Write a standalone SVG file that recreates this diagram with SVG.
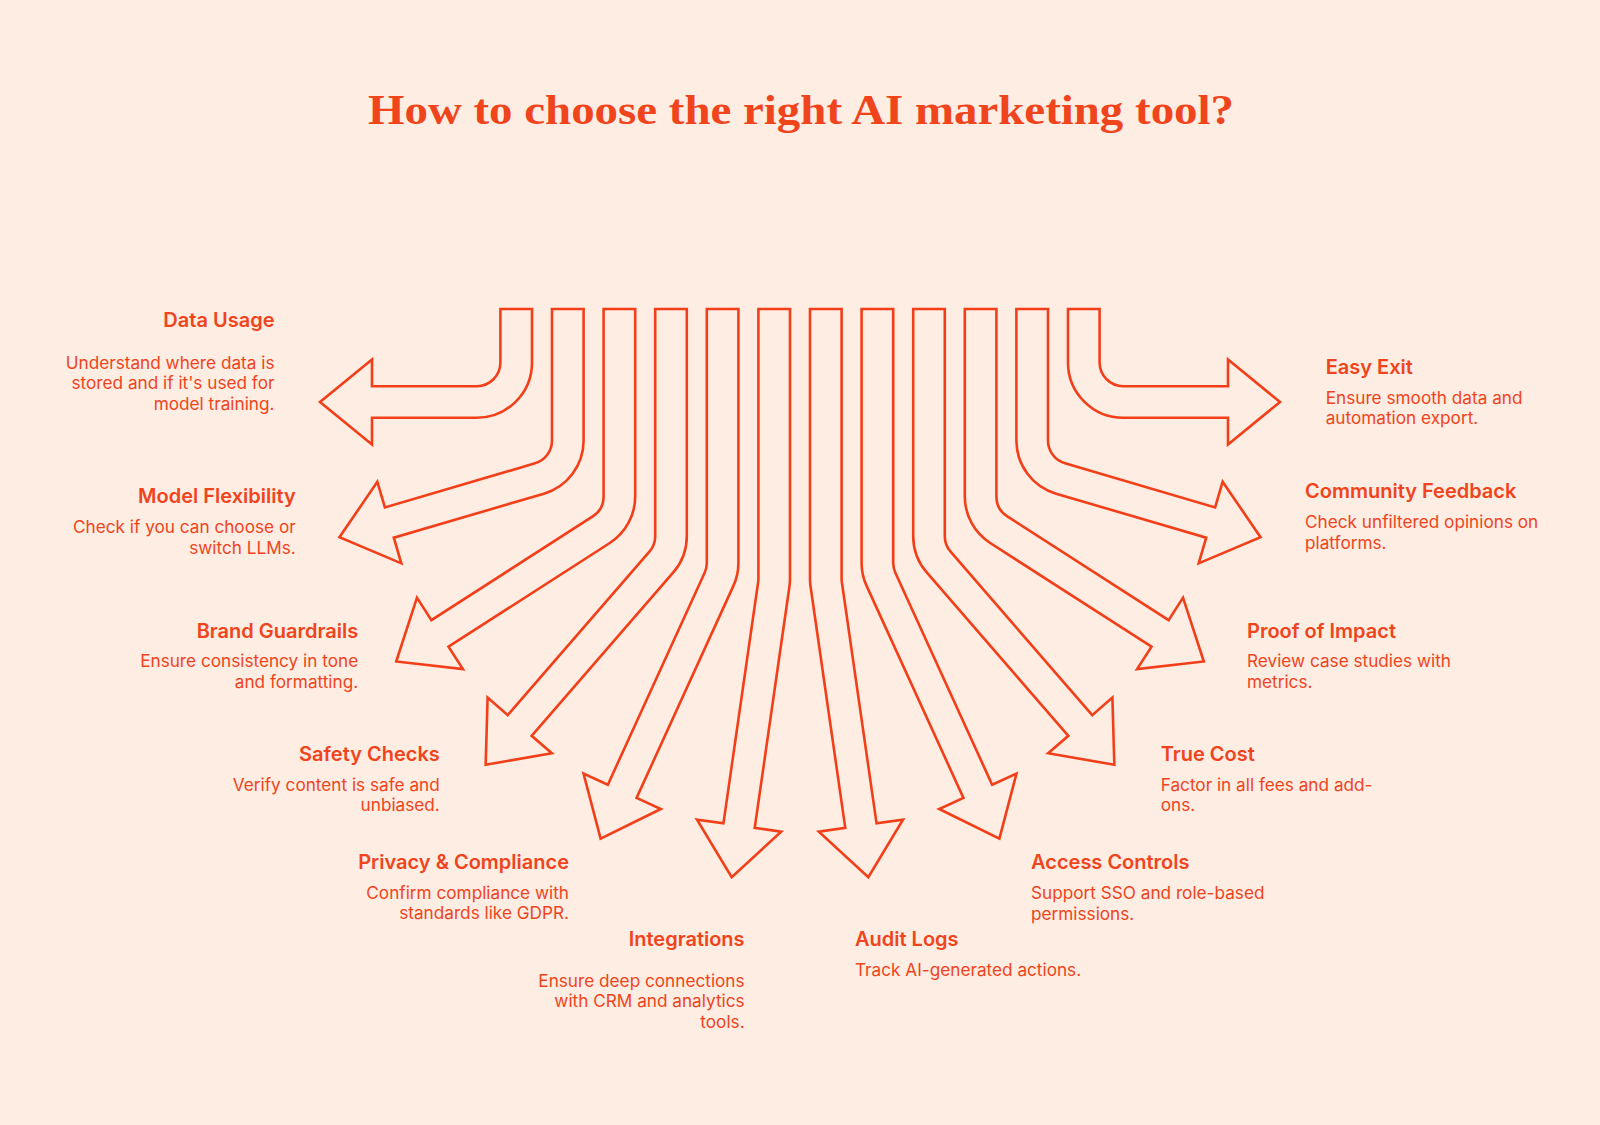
<svg xmlns="http://www.w3.org/2000/svg" xmlns:xlink="http://www.w3.org/1999/xlink" width="1600" height="1125" viewBox="0 0 1600 1125">
<style>
.bg{fill:#FEEDE2}
.arrow{fill:none;stroke:#F23F19;stroke-width:2.6;stroke-linejoin:miter}
.title{font-family:"Liberation Serif","Times New Roman",serif;font-weight:700;font-size:43px;fill:#F0441D}
.h{font-family:Inter,"Noto Sans","Liberation Sans",sans-serif;font-weight:600;font-size:20px;fill:#F0441D}
.d{font-family:Inter,"Noto Sans","Liberation Sans",sans-serif;font-weight:400;font-size:17.2px;fill:#F0441D}
.l{text-anchor:end}
</style>
<defs>
<path id="a0" d="M500.4 309 L500.4 362.5 A23.7 23.7 0 0 1 476.7 386.2 L372 386.2 L372 359.5 L320 402 L372 444.5 L372 417.8 L476.7 417.8 A55.3 55.3 0 0 0 532 362.5 L532 309 Z"/>
<path id="a1" d="M552 309 L552 440.61 A23.7 23.7 0 0 1 534.98 463.35 L384.89 507.42 L377.36 481.8 L339.44 537.23 L401.31 563.36 L393.79 537.74 L543.88 493.67 A55.3 55.3 0 0 0 583.6 440.61 L583.6 309 Z"/>
<path id="a2" d="M603.6 309 L603.6 496.49 A23.7 23.7 0 0 1 592.71 516.43 L431.4 620.1 L416.97 597.64 L396.2 661.51 L462.92 669.15 L448.49 646.69 L609.8 543.01 A55.3 55.3 0 0 0 635.2 496.49 L635.2 309 Z"/>
<path id="a3" d="M655.2 309 L655.2 536.14 A23.7 23.7 0 0 1 649.41 551.66 L507.78 715.11 L487.6 697.63 L485.67 764.76 L551.84 753.29 L531.66 735.81 L673.29 572.35 A55.3 55.3 0 0 0 686.8 536.14 L686.8 309 Z"/>
<path id="a4" d="M706.8 309 L706.8 562.89 A23.7 23.7 0 0 1 704.66 572.73 L607.83 784.76 L583.54 773.67 L600.6 838.62 L660.86 808.98 L636.57 797.89 L733.4 585.86 A55.3 55.3 0 0 0 738.4 562.89 L738.4 309 Z"/>
<path id="a5" d="M758.4 309 L758.4 578.62 A23.7 23.7 0 0 1 758.16 581.99 L723.45 823.39 L697.02 819.6 L731.69 877.11 L781.16 831.69 L754.73 827.89 L789.44 586.49 A55.3 55.3 0 0 0 790 578.62 L790 309 Z"/>
</defs>
<rect class="bg" x="0" y="0" width="1600" height="1125"/>
<text class="title" x="801" y="124" text-anchor="middle" textLength="866" lengthAdjust="spacingAndGlyphs">How to choose the right AI marketing tool?</text>

<g id="connectors">
  <g id="arrows-left">
    <use id="arrow-data-usage" class="arrow" href="#a0"/>
    <use id="arrow-model-flexibility" class="arrow" href="#a1"/>
    <use id="arrow-brand-guardrails" class="arrow" href="#a2"/>
    <use id="arrow-safety-checks" class="arrow" href="#a3"/>
    <use id="arrow-privacy" class="arrow" href="#a4"/>
    <use id="arrow-integrations" class="arrow" href="#a5"/>
  </g>
  <g id="arrows-right" transform="matrix(-1 0 0 1 1600 0)">
    <use id="arrow-easy-exit" class="arrow" href="#a0"/>
    <use id="arrow-community-feedback" class="arrow" href="#a1"/>
    <use id="arrow-proof-of-impact" class="arrow" href="#a2"/>
    <use id="arrow-true-cost" class="arrow" href="#a3"/>
    <use id="arrow-access-controls" class="arrow" href="#a4"/>
    <use id="arrow-audit-logs" class="arrow" href="#a5"/>
  </g>
</g>

<g id="node-data-usage">
  <text class="h l" x="274.5" y="327.3">Data Usage</text>
  <text class="d l" x="274.5" y="368.5">Understand where data is</text>
  <text class="d l" x="274.5" y="389">stored and if it's used for</text>
  <text class="d l" x="274.5" y="409.5">model training.</text>
</g>
<g id="node-model-flexibility">
  <text class="h l" x="295.7" y="503.3">Model Flexibility</text>
  <text class="d l" x="295.7" y="533.3">Check if you can choose or</text>
  <text class="d l" x="295.7" y="553.6">switch LLMs.</text>
</g>
<g id="node-brand-guardrails">
  <text class="h l" x="358.2" y="637.6">Brand Guardrails</text>
  <text class="d l" x="358.2" y="667.3">Ensure consistency in tone</text>
  <text class="d l" x="358.2" y="687.6">and formatting.</text>
</g>
<g id="node-safety-checks">
  <text class="h l" x="439.8" y="761">Safety Checks</text>
  <text class="d l" x="439.8" y="791">Verify content is safe and</text>
  <text class="d l" x="439.8" y="811.3">unbiased.</text>
</g>
<g id="node-privacy-compliance">
  <text class="h l" x="569" y="868.5">Privacy &amp; Compliance</text>
  <text class="d l" x="569" y="898.5">Confirm compliance with</text>
  <text class="d l" x="569" y="918.8">standards like GDPR.</text>
</g>
<g id="node-integrations">
  <text class="h l" x="744.6" y="946">Integrations</text>
  <text class="d l" x="744.6" y="986.7">Ensure deep connections</text>
  <text class="d l" x="744.6" y="1007.2">with CRM and analytics</text>
  <text class="d l" x="744.6" y="1027.7">tools.</text>
</g>
<g id="node-audit-logs">
  <text class="h" x="855" y="946">Audit Logs</text>
  <text class="d" x="855" y="975.9">Track AI-generated actions.</text>
</g>
<g id="node-access-controls">
  <text class="h" x="1031" y="868.8">Access Controls</text>
  <text class="d" x="1031" y="899.3">Support SSO and role-based</text>
  <text class="d" x="1031" y="919.6">permissions.</text>
</g>
<g id="node-true-cost">
  <text class="h" x="1160.7" y="761">True Cost</text>
  <text class="d" x="1160.7" y="791">Factor in all fees and add-</text>
  <text class="d" x="1160.7" y="811.3">ons.</text>
</g>
<g id="node-proof-of-impact">
  <text class="h" x="1247" y="637.6">Proof of Impact</text>
  <text class="d" x="1247" y="667.3">Review case studies with</text>
  <text class="d" x="1247" y="687.6">metrics.</text>
</g>
<g id="node-community-feedback">
  <text class="h" x="1305" y="497.7">Community Feedback</text>
  <text class="d" x="1305" y="528.3">Check unfiltered opinions on</text>
  <text class="d" x="1305" y="548.6">platforms.</text>
</g>
<g id="node-easy-exit">
  <text class="h" x="1325.7" y="374.3">Easy Exit</text>
  <text class="d" x="1325.7" y="404">Ensure smooth data and</text>
  <text class="d" x="1325.7" y="424.3">automation export.</text>
</g>
</svg>
